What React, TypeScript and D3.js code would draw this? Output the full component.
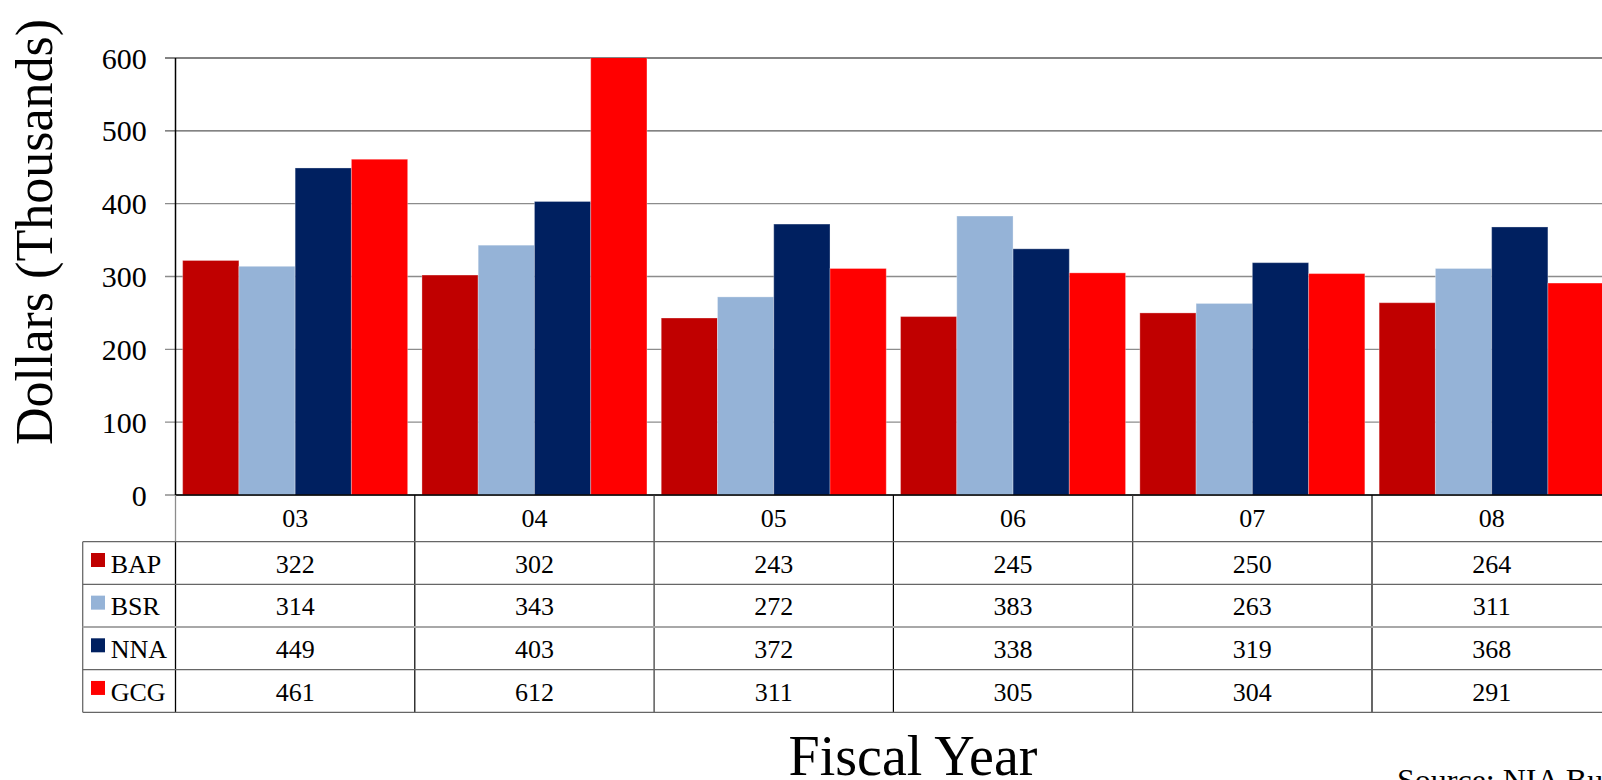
import React from "react";
import * as d3 from "d3";

const years = ["03", "04", "05", "06", "07", "08"];
const seriesNames = ["BAP", "BSR", "NNA", "GCG"];
const BAP = [322, 302, 243, 245, 250, 264];
const BSR = [314, 343, 272, 383, 263, 311];
const NNA = [449, 403, 372, 338, 319, 368];
const GCG = [461, 612, 311, 305, 304, 291];
const seriesValues = [BAP, BSR, NNA, GCG];
const seriesColors = ["#C00000", "#95B3D7", "#002060", "#FF0000"];
const yTicks = [0, 100, 200, 300, 400, 500, 600];

const W = 1602;
const H = 780;
const FONT = "'Liberation Serif', 'Times New Roman', serif";

export default function App() {
  const plotLeft = 175.5;
  const catW = 239.3;
  const plotRight = plotLeft + catW * years.length;
  const yTop = 58;
  const yBottom = 495;

  const x0 = d3.scaleBand<string>().domain(years).range([plotLeft, plotRight]).padding(0);
  const x1 = d3
    .scaleBand<string>()
    .domain(seriesNames)
    .range([0, x0.bandwidth()])
    .paddingInner(0)
    .paddingOuter(0.127);
  const y = d3.scaleLinear().domain([0, 600]).range([yBottom, yTop]);

  const tableLeft = 82.7;
  const headerBottom = 541.7;
  const rowH = 42.65;
  const rowTop = (i: number) => headerBottom + i * rowH;
  const tableBottom = rowTop(4);

  return (
    <svg
      width={W}
      height={H}
      style={{ position: "fixed", left: 0, top: 0, background: "#fff" }}
      fontFamily={FONT}
    >
      <defs>
        <clipPath id="plotClip">
          <rect x={plotLeft} y={yTop} width={plotRight - plotLeft} height={yBottom - yTop} />
        </clipPath>
      </defs>
      <rect x={0} y={0} width={W} height={H} fill="#fff" />

      {/* gridlines and ticks */}
      {yTicks.map((t) => (
        <g key={t}>
          <line
            x1={165}
            x2={plotRight}
            y1={y(t)}
            y2={y(t)}
            stroke={t === 600 || t === 500 ? "#5a5a5a" : "#8c8c8c"}
            strokeWidth={1.3}
          />
          <text x={146.7} y={y(t)} dy="0.35em" textAnchor="end" fontSize={30} fill="#000">
            {t}
          </text>
        </g>
      ))}

      {/* bars */}
      <g clipPath="url(#plotClip)">
        {years.map((yr, i) => (
          <g key={yr} transform={`translate(${x0(yr)},0)`}>
            {seriesNames.map((s, j) => {
              const v = seriesValues[j][i];
              return (
                <rect
                  key={s}
                  x={x1(s)}
                  y={y(v)}
                  width={x1.bandwidth()}
                  height={y(0) - y(v)}
                  fill={seriesColors[j]}
                  stroke="rgba(255,255,255,0.3)"
                  strokeWidth={1}
                />
              );
            })}
          </g>
        ))}
      </g>

      {/* axes */}
      <line x1={plotLeft} x2={plotLeft} y1={yTop} y2={yBottom} stroke="#000" strokeWidth={1.5} />
      <line x1={plotLeft} x2={plotRight} y1={yBottom} y2={yBottom} stroke="#000" strokeWidth={1.5} />

      {/* data table */}
      <line x1={plotLeft} x2={plotLeft} y1={yBottom} y2={headerBottom} stroke="#8c8c8c" strokeWidth={1.3} />
      <line x1={tableLeft} x2={tableLeft} y1={headerBottom} y2={tableBottom} stroke="#6a6a6a" strokeWidth={1.3} />
      <line x1={plotLeft} x2={plotLeft} y1={headerBottom} y2={tableBottom} stroke="#000" strokeWidth={1.3} />
      {years.map((yr, i) =>
        i === 0 ? null : (
          <line
            key={yr}
            x1={x0(yr)}
            x2={x0(yr)}
            y1={yBottom}
            y2={tableBottom}
            stroke={i % 2 === 1 ? "#000" : "#333"}
            strokeWidth={1.2}
          />
        )
      )}
      {[0, 1, 2, 3, 4].map((i) => (
        <line
          key={i}
          x1={tableLeft}
          x2={plotRight}
          y1={rowTop(i)}
          y2={rowTop(i)}
          stroke={i === 2 ? "#a8a8a8" : "#666"}
          strokeWidth={i === 2 ? 2 : 1.3}
        />
      ))}
      {years.map((yr) => (
        <text
          key={yr}
          x={(x0(yr) as number) + x0.bandwidth() / 2}
          y={526.7}
          textAnchor="middle"
          fontSize={26}
          fill="#000"
        >
          {yr}
        </text>
      ))}
      {seriesNames.map((s, j) => (
        <g key={s}>
          <rect x={91} y={rowTop(j) + 11.3} width={14} height={14} fill={seriesColors[j]} />
          <text x={110.7} y={rowTop(j) + 31} fontSize={26} fill="#000">
            {s}
          </text>
          {years.map((yr, i) => (
            <text
              key={yr}
              x={(x0(yr) as number) + x0.bandwidth() / 2}
              y={rowTop(j) + 31}
              textAnchor="middle"
              fontSize={26}
              fill="#000"
            >
              {seriesValues[j][i]}
            </text>
          ))}
        </g>
      ))}

      {/* axis titles */}
      <text
        transform={`translate(52,232) rotate(-90)`}
        textAnchor="middle"
        fontSize={52}
        fill="#000"
      >
        Dollars (Thousands)
      </text>
      <text x={913} y={775} textAnchor="middle" fontSize={56} fill="#000">
        Fiscal Year
      </text>
      <text x={1397} y={791} fontSize={32} fill="#000">
        Source: NIA Budget Office
      </text>
    </svg>
  );
}
